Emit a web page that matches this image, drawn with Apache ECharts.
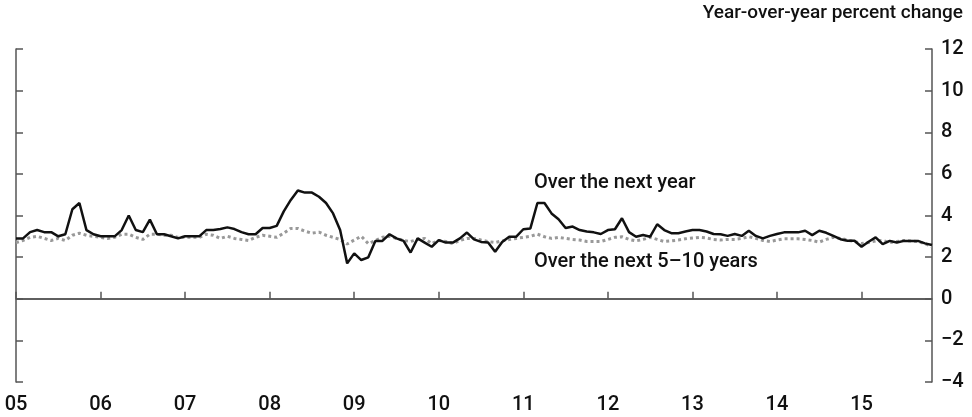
<!DOCTYPE html>
<html>
<head>
<meta charset="utf-8">
<script src="https://cdn.jsdelivr.net/npm/echarts@6/dist/echarts.min.js"></script>
<style>
  html, body { margin: 0; padding: 0; background: #fff; }
  #chart { width: 972px; height: 417px; }
</style>
</head>
<body>
<div id="chart"></div>
<script>
// monthly, Jan 2005 .. Nov 2015
var months = [];
for (var y = 2005; y <= 2015; y++) {
  for (var m = 1; m <= 12; m++) {
    if (y === 2015 && m > 11) break;
    months.push(y + '-' + (m < 10 ? '0' + m : m));
  }
}

// expected inflation over the next year
var nextYear = [
  2.9, 2.9, 3.2, 3.3, 3.2, 3.2, 3.0, 3.1, 4.3, 4.6, 3.3, 3.1,
  3.0, 3.0, 3.0, 3.3, 4.0, 3.3, 3.2, 3.8, 3.1, 3.1, 3.0, 2.9,
  3.0, 3.0, 3.0, 3.3, 3.3, 3.35, 3.43, 3.35, 3.2, 3.1, 3.1, 3.4,
  3.4, 3.5, 4.2, 4.75, 5.2, 5.1, 5.1, 4.9, 4.6, 4.1, 3.3, 1.7,
  2.18, 1.86, 1.99, 2.78, 2.78, 3.1, 2.9, 2.78, 2.22, 2.9, 2.7, 2.5,
  2.82, 2.7, 2.7, 2.9, 3.18, 2.85, 2.73, 2.7, 2.26, 2.73, 2.98, 2.98,
  3.34, 3.38, 4.6, 4.6, 4.1, 3.82, 3.4, 3.47, 3.3, 3.23, 3.19, 3.11,
  3.3, 3.34, 3.87, 3.2, 2.98, 3.06, 2.98, 3.58, 3.3, 3.15, 3.15, 3.23,
  3.3, 3.3, 3.23, 3.11, 3.1, 3.02, 3.11, 3.02, 3.27, 3.02, 2.9, 3.02,
  3.11, 3.19, 3.19, 3.19, 3.27, 3.06, 3.27, 3.17, 3.02, 2.86, 2.79, 2.79,
  2.5, 2.74, 2.95, 2.62, 2.78, 2.7, 2.78, 2.78, 2.78, 2.66, 2.58
];

// expected inflation over the next 5-10 years
var next5to10 = [
  2.7, 2.8, 2.95, 3.0, 2.9, 2.8, 2.9, 2.8, 3.05, 3.15, 3.05, 3.0,
  2.95, 2.9, 2.95, 3.1, 3.1, 2.95, 2.85, 3.1, 3.1, 3.05, 3.05, 2.95,
  2.95, 2.95, 2.95, 3.1, 3.05, 2.9, 3.0, 2.9, 2.85, 2.8, 2.95, 3.05,
  3.0, 2.95, 3.15, 3.38, 3.38, 3.25, 3.15, 3.2, 3.05, 2.95, 2.85, 2.63,
  2.82, 3.0, 2.65, 2.8, 2.95, 3.0, 2.9, 2.8, 2.75, 2.85, 2.9, 2.65,
  2.8, 2.75, 2.65, 2.8, 2.9, 2.9, 2.82, 2.75, 2.7, 2.78, 2.85, 2.9,
  2.95, 3.0, 3.1, 2.98, 2.9, 2.95, 2.9, 2.85, 2.82, 2.75, 2.75, 2.75,
  2.85, 2.95, 2.98, 2.85, 2.78, 2.85, 2.95, 2.85, 2.75, 2.78, 2.82, 2.88,
  2.92, 2.95, 2.92, 2.85, 2.82, 2.85, 2.85, 2.9, 2.98, 2.9, 2.8, 2.75,
  2.82, 2.88, 2.88, 2.88, 2.85, 2.8, 2.72, 2.85, 2.95, 2.9, 2.82, 2.75,
  2.65, 2.7, 2.78, 2.8, 2.7, 2.75, 2.8, 2.78, 2.75, 2.65, 2.5
];

var yMin = -4, yMax = 12, yStep = 2;
var axisColor = '#555';
var fontStack = 'Roboto, "Noto Sans", sans-serif';

function yearTick(index) { return index % 12 === 0; }

var option = {
  animation: false,
  grid: { left: 16, right: 40, top: 49, bottom: 35 },
  graphic: [
    { type: 'text', right: 9, top: 4,
      style: { text: 'Year-over-year percent change', fill: '#111', font: '500 19px ' + fontStack } },
    { type: 'text', left: 534, top: 173,
      style: { text: 'Over the next year', fill: '#111', font: '500 20px ' + fontStack } },
    { type: 'text', left: 534, top: 252,
      style: { text: 'Over the next 5\u201310 years', fill: '#111', font: '500 20px ' + fontStack } }
  ],
  xAxis: {
    type: 'category',
    data: months,
    boundaryGap: false,
    axisLine: { show: true, lineStyle: { color: axisColor, width: 1.5 } },
    axisTick: { show: true, inside: true, length: 7, interval: function (i) { return yearTick(i); },
      lineStyle: { color: axisColor, width: 1.5 } },
    axisLabel: {
      interval: function (i) { return yearTick(i); },
      formatter: function (v) { return v.slice(2, 4); },
      color: '#111', fontSize: 20, fontWeight: 500, fontFamily: fontStack, margin: 13
    },
    splitLine: { show: false }
  },
  yAxis: [
    {
      type: 'value', position: 'right', min: yMin, max: yMax, interval: yStep,
      axisLine: { show: true, lineStyle: { color: axisColor, width: 1.5 } },
      axisTick: { show: true, inside: true, length: 7, lineStyle: { color: axisColor, width: 1.5 } },
      axisLabel: {
        color: '#111', fontSize: 20, fontWeight: 500, fontFamily: fontStack, margin: 9,
        formatter: function (v) { return v < 0 ? '\u2212' + Math.abs(v) : String(v); }
      },
      splitLine: { show: false }
    },
    {
      type: 'value', position: 'left', min: yMin, max: yMax, interval: yStep,
      axisLine: { show: true, lineStyle: { color: axisColor, width: 1.5 } },
      axisTick: { show: true, inside: true, length: 7, lineStyle: { color: axisColor, width: 1.5 } },
      axisLabel: { show: false },
      splitLine: { show: false }
    }
  ],
  series: [
    {
      name: 'Over the next 5\u201310 years',
      type: 'line',
      data: next5to10,
      symbol: 'none',
      lineStyle: { color: '#999', width: 3, type: [3, 3] },
      z: 2
    },
    {
      name: 'Over the next year',
      type: 'line',
      data: nextYear,
      symbol: 'none',
      lineStyle: { color: '#111', width: 2.5 },
      z: 3,
      markLine: {
        silent: true,
        symbol: 'none',
        label: { show: false },
        lineStyle: { color: axisColor, width: 1.5, type: 'solid' },
        data: [{ yAxis: 0 }]
      }
    }
  ]
};

var myChart = echarts.init(document.getElementById('chart'));
myChart.setOption(option);
</script>
</body>
</html>
